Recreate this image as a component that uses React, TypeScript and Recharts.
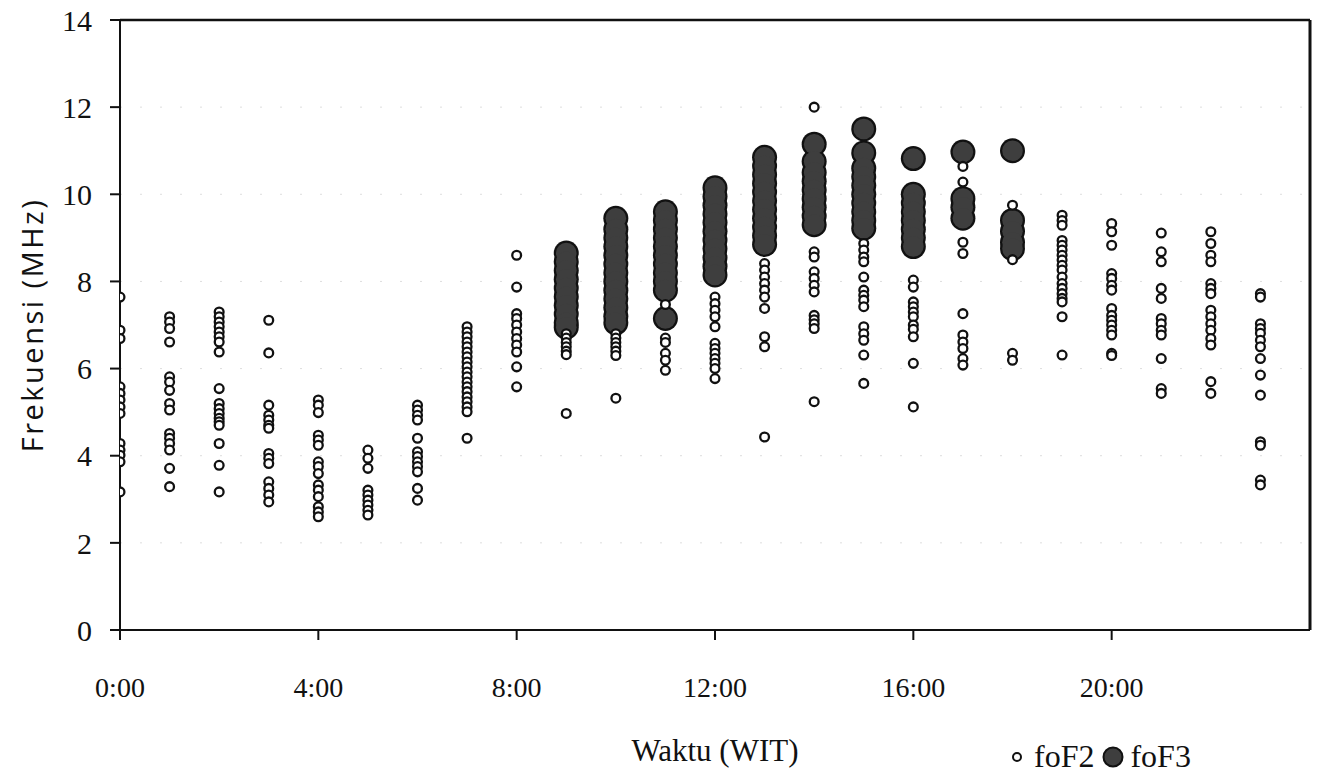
import { ScatterChart, Scatter, XAxis, YAxis, CartesianGrid, ReferenceLine } from 'recharts';

const hours = [0, 1, 2, 3, 4, 5, 6, 7, 8, 9, 10, 11, 12, 13, 14, 15, 16, 17, 18, 19, 20, 21, 22, 23];
const xTicks = [0, 4, 8, 12, 16, 20];
const yTicks = [0, 2, 4, 6, 8, 10, 12, 14];

// foF2 readings (MHz), one row per hour
const foF2ByHour: number[][] = [
  [7.64, 6.88, 6.69, 5.58, 5.43, 5.28, 5.12, 4.97, 4.28, 4.13, 4.01, 3.86, 3.17],
  [7.19, 7.07, 6.92, 6.61, 5.81, 5.69, 5.5, 5.2, 5.05, 4.51, 4.4, 4.28, 4.13, 3.71, 3.29],
  [7.3, 7.19, 7.07, 6.96, 6.84, 6.73, 6.61, 6.38, 5.54, 5.2, 5.08, 4.97, 4.86, 4.78, 4.7, 4.28, 3.78, 3.17],
  [7.11, 6.36, 5.16, 4.93, 4.82, 4.7, 4.63, 4.05, 3.94, 3.82, 3.4, 3.25, 3.1, 2.94],
  [5.28, 5.16, 4.99, 4.47, 4.36, 4.24, 3.86, 3.75, 3.59, 3.33, 3.21, 3.06, 2.83, 2.71, 2.6],
  [4.13, 3.94, 3.71, 3.21, 3.1, 2.98, 2.87, 2.75, 2.64],
  [5.16, 5.05, 4.93, 4.82, 4.4, 4.09, 3.98, 3.86, 3.75, 3.63, 3.25, 2.98],
  [6.96, 6.84, 6.73, 6.61, 6.5, 6.38, 6.27, 6.15, 6.04, 5.92, 5.81, 5.69, 5.58, 5.47, 5.35, 5.24, 5.12, 5.01, 4.4],
  [8.6, 7.87, 7.26, 7.15, 7.0, 6.84, 6.69, 6.54, 6.38, 6.04, 5.58],
  [6.8, 6.7, 6.6, 6.5, 6.4, 6.32, 4.97],
  [6.8, 6.7, 6.6, 6.5, 6.4, 6.3, 5.32],
  [7.47, 6.7, 6.6, 6.35, 6.19, 5.96],
  [7.64, 7.49, 7.34, 7.19, 6.96, 6.58, 6.46, 6.35, 6.23, 6.12, 6.0, 5.77],
  [8.41, 8.26, 8.1, 7.95, 7.8, 7.64, 7.38, 6.73, 6.5, 4.43],
  [12.0, 8.68, 8.56, 8.22, 8.07, 7.91, 7.76, 7.22, 7.12, 7.03, 6.92, 5.24],
  [8.87, 8.72, 8.56, 8.45, 8.1, 7.8, 7.68, 7.57, 7.42, 6.96, 6.8, 6.65, 6.31, 5.66],
  [8.03, 7.87, 7.53, 7.42, 7.3, 7.19, 7.0, 6.9, 6.73, 6.12, 5.12],
  [10.64, 10.28, 8.9, 8.64, 7.26, 6.77, 6.61, 6.46, 6.23, 6.08],
  [9.75, 8.5, 6.35, 6.19],
  [9.52, 9.4, 9.29, 8.94, 8.83, 8.72, 8.6, 8.49, 8.37, 8.26, 8.1, 7.95, 7.84, 7.72, 7.61, 7.53, 7.19, 6.31],
  [9.33, 9.14, 8.83, 8.18, 8.07, 7.91, 7.8, 7.38, 7.22, 7.11, 7.0, 6.88, 6.77, 6.35, 6.3],
  [9.11, 8.68, 8.45, 7.84, 7.61, 7.15, 7.03, 6.88, 6.77, 6.23, 5.54, 5.43],
  [9.14, 8.87, 8.6, 8.45, 7.95, 7.84, 7.72, 7.34, 7.19, 7.03, 6.88, 6.69, 6.54, 5.7, 5.43],
  [7.72, 7.64, 7.03, 6.92, 6.81, 6.65, 6.5, 6.23, 5.85, 5.39, 4.32, 4.24, 3.44, 3.33],
];

// foF3 readings (MHz), one row per hour
const foF3ByHour: number[][] = [
  [], [], [], [], [], [], [], [], [],
  [8.65, 8.45, 8.25, 8.05, 7.85, 7.65, 7.45, 7.25, 7.05, 6.95],
  [9.45, 9.2, 9.0, 8.8, 8.6, 8.4, 8.2, 8.0, 7.8, 7.6, 7.4, 7.2, 7.05],
  [9.6, 9.4, 9.2, 9.0, 8.8, 8.6, 8.4, 8.2, 8.0, 7.8, 7.15],
  [10.15, 9.95, 9.75, 9.55, 9.35, 9.15, 8.95, 8.75, 8.55, 8.35, 8.15],
  [10.85, 10.65, 10.45, 10.25, 10.05, 9.85, 9.65, 9.45, 9.25, 9.05, 8.85],
  [11.15, 10.75, 10.5, 10.3, 10.1, 9.9, 9.7, 9.5, 9.3],
  [11.5, 10.95, 10.6, 10.4, 10.2, 10.0, 9.8, 9.6, 9.4, 9.22],
  [10.82, 10.0, 9.8, 9.6, 9.4, 9.2, 9.0, 8.8],
  [10.97, 9.9, 9.7, 9.45],
  [11.0, 9.4, 9.15, 8.9, 8.75],
  [], [], [], [], [],
];

const toPoints = (rows: number[][]) =>
  rows.flatMap((vals, i) => vals.map((v) => ({ hour: hours[i], freq: v })));

const foF2Data = toPoints(foF2ByHour);
const foF3Data = toPoints(foF3ByHour);

const serif = '"Liberation Serif", "Times New Roman", serif';

const Ring = (p: any) => (
  <circle cx={p.cx} cy={p.cy} r={4.4} fill="#fff" stroke="#111" strokeWidth={2.3} />
);
const DotEdge = (p: any) => <circle cx={p.cx} cy={p.cy} r={12.5} fill="#111" />;
const DotFill = (p: any) => <circle cx={p.cx} cy={p.cy} r={10.3} fill="#3e3e3e" />;

const YTitle = (props: any) => {
  const vb = props.viewBox || {};
  const cy = (vb.y ?? 20) + (vb.height ?? 610) / 2;
  const cx = 31;
  return (
    <text
      x={cx}
      y={cy}
      transform={`rotate(-90, ${cx}, ${cy})`}
      textAnchor="middle"
      dominantBaseline="central"
      fontFamily='"Open Sans", "DejaVu Sans", sans-serif'
      fontSize={29}
      letterSpacing={2.5}
      fill="#111"
    >
      Frekuensi (MHz)
    </text>
  );
};

export default function App() {
  return (
    <div style={{ position: 'absolute', left: 0, top: 0, width: 1325, height: 778, background: '#fff' }}>
      <ScatterChart width={1325} height={778} margin={{ top: 20, right: 15, bottom: 68, left: 0 }}>
        <CartesianGrid horizontal vertical={false} stroke="#dedede" strokeDasharray="2 18" />
        <XAxis
          type="number"
          dataKey="hour"
          domain={[0, 24]}
          ticks={xTicks}
          tickFormatter={(h: number) => `${h}:00`}
          allowDataOverflow
          height={80}
          stroke="#111"
          strokeWidth={2}
          tickSize={10}
          tickMargin={37}
          tick={{ fill: '#111', fontFamily: serif, fontSize: 28 }}
          label={{ value: 'Waktu (WIT)', position: 'bottom', offset: 29, fill: '#111', fontFamily: serif, fontSize: 31 }}
        />
        <YAxis
          type="number"
          dataKey="freq"
          domain={[0, 14]}
          ticks={yTicks}
          width={120}
          stroke="#111"
          strokeWidth={2}
          tickSize={10}
          tickMargin={18}
          tick={{ fill: '#111', fontFamily: serif, fontSize: 30 }}
          label={<YTitle />}
        />
        <ReferenceLine y={14} stroke="#111" strokeWidth={2.5} ifOverflow="visible" />
        <ReferenceLine x={24} stroke="#111" strokeWidth={3} ifOverflow="visible" />
        <Scatter name="foF3-edge" data={foF3Data} shape={DotEdge} isAnimationActive={false} legendType="none" />
        <Scatter name="foF3" data={foF3Data} shape={DotFill} isAnimationActive={false} />
        <Scatter name="foF2" data={foF2Data} shape={Ring} isAnimationActive={false} />
      </ScatterChart>
      <div
        style={{
          position: 'absolute',
          left: 1008,
          top: 738,
          display: 'flex',
          alignItems: 'center',
          fontFamily: serif,
          fontSize: 32,
          color: '#111',
          whiteSpace: 'nowrap',
        }}
      >
        <svg width={18} height={18} style={{ marginRight: 8 }}>
          <circle cx={9} cy={9} r={4} fill="#fff" stroke="#111" strokeWidth={2} />
        </svg>
        <span>foF2</span>
        <svg width={26} height={26} style={{ marginLeft: 6, marginRight: 4 }}>
          <circle cx={13} cy={13} r={9.5} fill="#3e3e3e" stroke="#111" strokeWidth={2} />
        </svg>
        <span>foF3</span>
      </div>
    </div>
  );
}
